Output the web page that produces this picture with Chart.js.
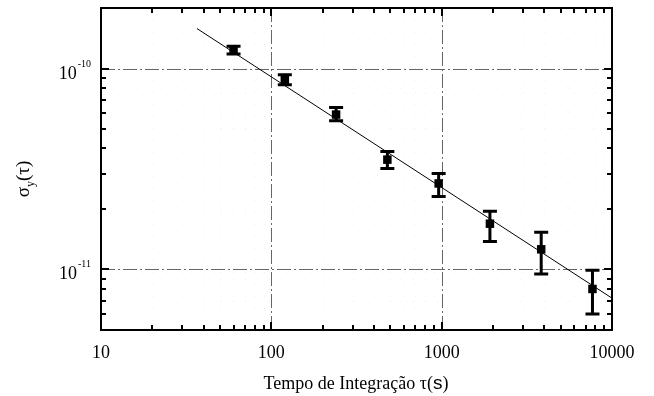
<!DOCTYPE html>
<html>
<head>
<meta charset="utf-8">
<script src="https://cdn.jsdelivr.net/npm/chart.js@4.4.1/dist/chart.umd.min.js"></script>
<style>
  html, body { margin: 0; padding: 0; background: #fff; }
  canvas { display: block; }
</style>
</head>
<body>
<canvas id="allanChart" width="654" height="396"></canvas>
<script>
// tempo de integracao (s) and Allan deviation
const tau = [60, 120, 240, 480, 960, 1920, 3840, 7680];
const sigma = [1.23e-10, 8.8e-11, 5.9e-11, 3.52e-11, 2.68e-11, 1.69e-11, 1.26e-11, 8.0e-12];
const sigmaHigh = [1.29e-10, 9.3e-11, 6.4e-11, 3.86e-11, 3.0e-11, 1.95e-11, 1.53e-11, 9.9e-12];
const sigmaLow = [1.18e-10, 8.3e-11, 5.5e-11, 3.18e-11, 2.31e-11, 1.38e-11, 9.5e-12, 6.0e-12];

// fitted line end points
const fitTau = [36.6, 10000];
const fitSigma = [1.58e-10, 7.2e-12];

// axes
const xMajor = [10, 100, 1000, 10000];
const xLabels = ["10", "100", "1000", "10000"];
const yMajorExp = [-12, -11, -10];
const yLabelExp = [-11, -10];
const xRange = [10, 10000];
const yRange = [5e-12, 2e-10];

const serif = "'Liberation Serif', 'DejaVu Serif', serif";

function minorTicks(majors, lo, hi) {
  const out = [];
  majors.forEach(d => {
    for (let m = 1; m <= 9; m++) {
      const v = m * d;
      if (v >= lo * 0.999 && v <= hi * 1.001) out.push({ v: v, major: m === 1 });
    }
  });
  return out;
}

const decorations = {
  id: "decorations",
  beforeDatasetsDraw(chart) {
    const ctx = chart.ctx;
    const a = chart.chartArea;
    const xs = chart.scales.x, ys = chart.scales.y;
    ctx.save();

    // faint minor grid
    ctx.strokeStyle = "rgba(0,0,0,0.06)";
    ctx.lineWidth = 1;
    ctx.setLineDash([1, 11]);
    minorTicks(xMajor, xRange[0], xRange[1]).forEach(t => {
      if (t.major) return;
      const px = Math.round(xs.getPixelForValue(t.v)) + 0.5;
      ctx.beginPath(); ctx.moveTo(px, a.top); ctx.lineTo(px, a.bottom); ctx.stroke();
    });
    minorTicks(yMajorExp.map(e => Math.pow(10, e)), yRange[0], yRange[1]).forEach(t => {
      if (t.major) return;
      const py = Math.round(ys.getPixelForValue(t.v)) + 0.5;
      ctx.beginPath(); ctx.moveTo(a.left, py); ctx.lineTo(a.right, py); ctx.stroke();
    });

    // major grid, dash-dot
    ctx.strokeStyle = "#666";
    ctx.setLineDash([14, 3, 2, 3]);
    xMajor.forEach(v => {
      const px = Math.round(xs.getPixelForValue(v)) + 0.5;
      if (px < a.left + 2 || px > a.right - 2) return;
      ctx.beginPath(); ctx.moveTo(px, a.top); ctx.lineTo(px, a.bottom); ctx.stroke();
    });
    yLabelExp.forEach(e => {
      const py = Math.round(ys.getPixelForValue(Math.pow(10, e))) + 0.5;
      ctx.beginPath(); ctx.moveTo(a.left, py); ctx.lineTo(a.right, py); ctx.stroke();
    });
    ctx.setLineDash([]);

    // error bars
    ctx.strokeStyle = "#000";
    ctx.lineWidth = 3;
    const cap = 7;
    tau.forEach((t, i) => {
      const px = xs.getPixelForValue(t);
      const hi = ys.getPixelForValue(sigmaHigh[i]);
      const lo = ys.getPixelForValue(sigmaLow[i]);
      ctx.beginPath();
      ctx.moveTo(px, hi); ctx.lineTo(px, lo);
      ctx.moveTo(px - cap, hi); ctx.lineTo(px + cap, hi);
      ctx.moveTo(px - cap, lo); ctx.lineTo(px + cap, lo);
      ctx.stroke();
    });
    ctx.restore();
  },
  afterDraw(chart) {
    const ctx = chart.ctx;
    const a = chart.chartArea;
    const xs = chart.scales.x, ys = chart.scales.y;
    ctx.save();
    ctx.strokeStyle = "#000";
    ctx.lineWidth = 2;

    // inward ticks on all four sides
    minorTicks(xMajor, xRange[0], xRange[1]).forEach(t => {
      const px = Math.round(xs.getPixelForValue(t.v));
      const len = t.major ? 8 : 5;
      ctx.beginPath();
      ctx.moveTo(px, a.bottom); ctx.lineTo(px, a.bottom - len);
      ctx.moveTo(px, a.top); ctx.lineTo(px, a.top + len);
      ctx.stroke();
    });
    minorTicks(yMajorExp.map(e => Math.pow(10, e)), yRange[0], yRange[1]).forEach(t => {
      const py = Math.round(ys.getPixelForValue(t.v));
      const len = t.major ? 8 : 5;
      ctx.beginPath();
      ctx.moveTo(a.left, py); ctx.lineTo(a.left + len, py);
      ctx.moveTo(a.right, py); ctx.lineTo(a.right - len, py);
      ctx.stroke();
    });

    // frame
    ctx.strokeRect(a.left, a.top, a.right - a.left, a.bottom - a.top);

    ctx.fillStyle = "#000";
    // x tick labels
    ctx.font = "18px " + serif;
    ctx.textAlign = "center";
    ctx.textBaseline = "top";
    xMajor.forEach((v, i) => {
      ctx.fillText(xLabels[i], xs.getPixelForValue(v), a.bottom + 14);
    });

    // y tick labels 10^n
    yLabelExp.forEach(e => {
      const py = ys.getPixelForValue(Math.pow(10, e));
      ctx.font = "10px " + serif;
      const expText = "-" + Math.abs(e);
      const ew = ctx.measureText(expText).width;
      ctx.textAlign = "left";
      ctx.textBaseline = "alphabetic";
      const right = 91;
      ctx.fillText(expText, right - ew, py - 2);
      ctx.font = "18px " + serif;
      const bw = ctx.measureText("10").width;
      ctx.fillText("10", right - ew - bw - 1, py + 10);
    });

    // x axis title
    ctx.textAlign = "left";
    ctx.textBaseline = "alphabetic";
    const t1 = "Tempo de Integração τ(";
    ctx.font = "18px " + serif;
    const w1 = ctx.measureText(t1).width;
    ctx.font = "19px 'Liberation Sans', sans-serif";
    const w2 = ctx.measureText("s").width;
    ctx.font = "18px " + serif;
    const w3 = ctx.measureText(")").width;
    const x0 = 356 - (w1 + w2 + w3) / 2;
    const by = 389;
    ctx.fillText(t1, x0, by);
    ctx.font = "19px 'Liberation Sans', sans-serif";
    ctx.fillText("s", x0 + w1, by);
    ctx.font = "18px " + serif;
    ctx.fillText(")", x0 + w1 + w2, by);

    // y axis title σy(τ)
    ctx.translate(29, 179);
    ctx.rotate(-Math.PI / 2);
    ctx.font = "19px " + serif;
    const s1 = ctx.measureText("σ").width;
    ctx.font = "12px " + serif;
    const s2 = ctx.measureText("y").width;
    ctx.font = "19px " + serif;
    const s3 = ctx.measureText("(τ)").width;
    const sx = -(s1 + s2 + s3) / 2;
    ctx.fillText("σ", sx, 0);
    ctx.font = "12px " + serif;
    ctx.fillText("y", sx + s1, 5);
    ctx.font = "19px " + serif;
    ctx.fillText("(τ)", sx + s1 + s2, 0);
    ctx.restore();
  }
};

const chart = new Chart(document.getElementById("allanChart"), {
  data: {
    datasets: [
      {
        type: "scatter",
        data: tau.map((t, i) => ({ x: t, y: sigma[i] })),
        pointStyle: "rect",
        pointRadius: 6,
        pointHoverRadius: 6,
        backgroundColor: "#000",
        borderColor: "#000",
        borderWidth: 0,
      },
      {
        type: "line",
        data: fitTau.map((t, i) => ({ x: t, y: fitSigma[i] })),
        borderColor: "#000",
        borderWidth: 1,
        pointRadius: 0,
        fill: false,
      },
    ],
  },
  options: {
    responsive: false,
    animation: false,
    layout: { padding: { left: 101, right: 42, top: 8, bottom: 66 } },
    plugins: { legend: { display: false }, tooltip: { enabled: false } },
    scales: {
      x: {
        type: "logarithmic",
        min: xRange[0],
        max: xRange[1],
        grid: { display: false, drawTicks: false },
        border: { display: false },
        ticks: { display: false },
      },
      y: {
        type: "logarithmic",
        min: yRange[0],
        max: yRange[1],
        grid: { display: false, drawTicks: false },
        border: { display: false },
        ticks: { display: false },
      },
    },
  },
  plugins: [decorations],
});
</script>
</body>
</html>
